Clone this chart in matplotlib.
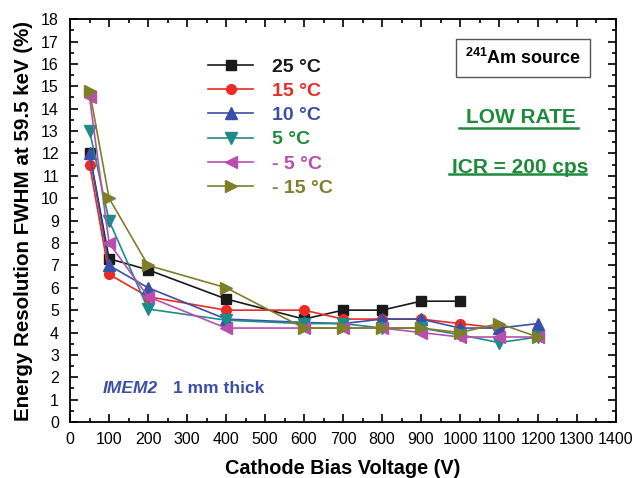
import numpy as np
import matplotlib
matplotlib.use("Agg")
import matplotlib.pyplot as plt
from matplotlib.ticker import MultipleLocator

plt.rcParams['font.family'] = ['Liberation Sans', 'DejaVu Sans']
plt.rcParams['mathtext.fontset'] = 'custom'
plt.rcParams['mathtext.bf'] = 'Liberation Sans:bold'

# bias voltage (V) and FWHM (%) at 59.5 keV for each temperature
v_25 = [50, 100, 200, 400, 600, 700, 800, 900, 1000]
r_25 = [12.0, 7.3, 6.8, 5.5, 4.6, 5.0, 5.0, 5.4, 5.4]

v_15 = [50, 100, 200, 400, 600, 700, 800, 900, 1000, 1100]
r_15 = [11.5, 6.6, 5.6, 5.0, 5.0, 4.6, 4.6, 4.6, 4.4, 4.2]

v_10 = [50, 100, 200, 400, 600, 700, 800, 900, 1000, 1100, 1200]
r_10 = [12.0, 7.0, 6.0, 4.6, 4.45, 4.4, 4.6, 4.6, 4.2, 4.2, 4.4]

v_5 = [50, 100, 200, 400, 600, 700, 800, 900, 1000, 1100, 1200]
r_5 = [13.0, 9.0, 5.05, 4.55, 4.4, 4.4, 4.2, 4.2, 3.9, 3.55, 3.8]

v_m5 = [50, 100, 200, 400, 600, 700, 800, 900, 1000, 1100, 1200]
r_m5 = [14.5, 8.0, 5.6, 4.2, 4.2, 4.2, 4.2, 4.0, 3.8, 3.8, 3.8]

v_m15 = [50, 100, 200, 400, 600, 700, 800, 900, 1000, 1100, 1200]
r_m15 = [14.8, 10.0, 7.0, 6.0, 4.2, 4.2, 4.2, 4.2, 4.0, 4.4, 3.8]

labels = ["25 °C", "15 °C", "10 °C", "5 °C", "- 5 °C", "- 15 °C"]
line_colors = ["#1a1a1a", "#ee2a24", "#3a4fa8", "#1e8a8a", "#b84fb0", "#7f7f2a"]
text_colors = ["#1a1a1a", "#ee2a24", "#3a4fa8", "#1e8a3a", "#b84fb0", "#7f7f2a"]
markers = ["s", "o", "^", "v", "<", ">"]
msizes = [7, 7, 9, 9, 9, 9]

series = [(v_25, r_25), (v_15, r_15), (v_10, r_10),
          (v_5, r_5), (v_m5, r_m5), (v_m15, r_m15)]

fig = plt.figure(figsize=(6.37, 4.78), dpi=100)
ax = fig.add_axes([0.110, 0.117, 0.857, 0.843])

for (v, r), lab, c, m, ms in zip(series, labels, line_colors, markers, msizes):
    ax.plot(v, r, color=c, marker=m, markersize=ms, linewidth=1.2, label=lab)

ax.set_xlim(0, 1400)
ax.set_ylim(0, 18)
ax.xaxis.set_major_locator(MultipleLocator(100))
ax.xaxis.set_minor_locator(MultipleLocator(50))
ax.yaxis.set_major_locator(MultipleLocator(1))
ax.yaxis.set_minor_locator(MultipleLocator(0.5))
ax.tick_params(which="both", direction="in", top=True, right=True, width=1.2)
ax.tick_params(which="major", length=6, labelsize=11.5)
ax.tick_params(axis="y", which="major", pad=8)
ax.tick_params(axis="x", which="major", pad=7)
ax.tick_params(which="minor", length=3)
for sp in ax.spines.values():
    sp.set_linewidth(1.3)

ax.set_xlabel("Cathode Bias Voltage (V)", fontsize=14.3, fontweight="bold", labelpad=9)
ax.set_ylabel("Energy Resolution FWHM at 59.5 keV (%)", fontsize=14.8,
              fontweight="bold", labelpad=6)

leg = ax.legend(loc="upper left", bbox_to_anchor=(0.253, 0.903), frameon=False,
                labelcolor=text_colors, prop={"weight": "bold", "size": 14},
                handlelength=2.3, labelspacing=0.34, handletextpad=1.0,
                borderpad=0, borderaxespad=0)

# source label in a box
ax.text(0.830, 0.903, r"$^{\mathbf{241}}$Am source", transform=ax.transAxes,
        ha="center", va="center", fontsize=13, fontweight="bold",
        bbox=dict(boxstyle="square,pad=0.5", fc="white", ec="#555555", lw=1))

green = "#1e8a3a"
ax.text(0.826, 0.757, "LOW RATE", transform=ax.transAxes, ha="center",
        va="center", fontsize=15, fontweight="bold", color=green)
ax.plot([0.713, 0.931], [0.730, 0.730], transform=ax.transAxes,
        color=green, lw=1.8, clip_on=False)
ax.text(0.825, 0.633, "ICR = 200 cps", transform=ax.transAxes, ha="center",
        va="center", fontsize=15, fontweight="bold", color=green)
ax.plot([0.694, 0.945], [0.615, 0.615], transform=ax.transAxes,
        color=green, lw=1.8, clip_on=False)

blue = "#3a4fa8"
ax.text(0.060, 0.084, "IMEM2", transform=ax.transAxes, ha="left", va="center",
        fontsize=12.5, fontweight="bold", fontstyle="italic", color=blue)
ax.text(0.189, 0.084, "1 mm thick", transform=ax.transAxes, ha="left",
        va="center", fontsize=12.5, fontweight="bold", color=blue)

fig.savefig("out.png", dpi=100)
